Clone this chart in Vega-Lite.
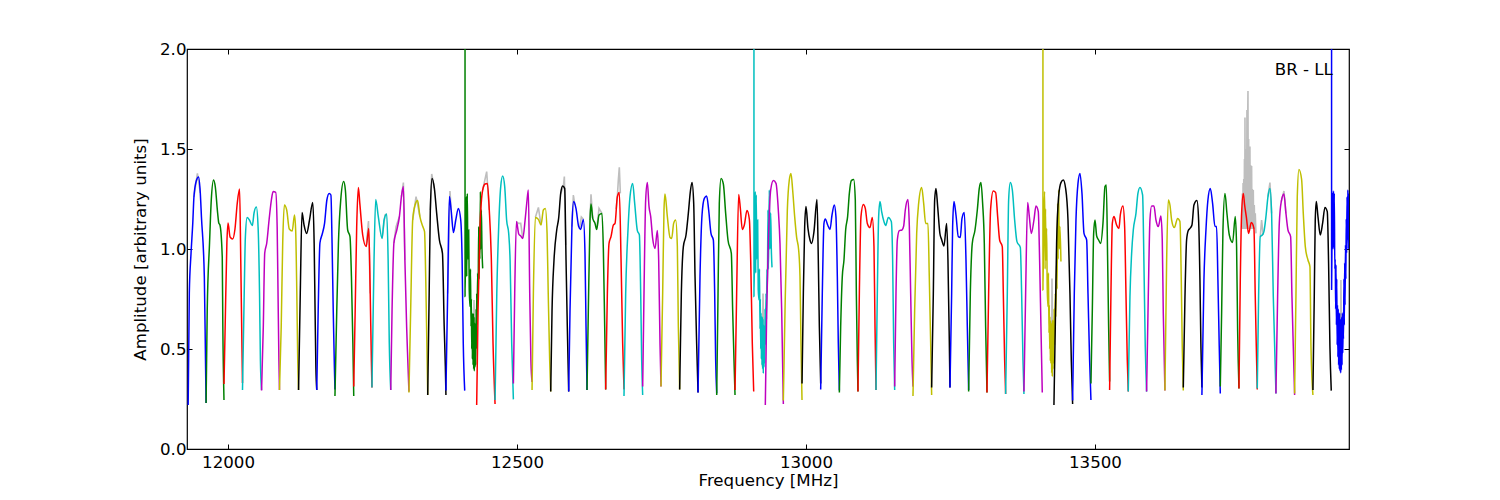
{
"$schema":"https://vega.github.io/schema/vega-lite/v6.json",
"width":1162,"height":400,
"autosize":{"type":"none"},
"padding":{"left":187,"top":49,"right":151,"bottom":51},
"background":"white",
"config":{"font":"DejaVu Sans","view":{"stroke":"black","strokeWidth":1.2}},
"datasets":{
"spectrum":[
{"c":"b","n":0,"f":11931,"a":0.22},{"c":"b","n":0,"f":11933,"a":0.78},{"c":"b","n":0,"f":11936,"a":0.98},{"c":"b","n":0,"f":11939,"a":1.13},{"c":"b","n":0,"f":11941,"a":1.26},{"c":"b","n":0,"f":11945,"a":1.34},{"c":"b","n":0,"f":11949,"a":1.36},{"c":"b","n":0,"f":11952,"a":1.28},{"c":"b","n":0,"f":11954,"a":1.16},{"c":"b","n":0,"f":11959,"a":0.86},{"c":"b","n":0,"f":11961,"a":0.445},{"c":"b","n":0,"f":11962,"a":0.23},
{"c":"g","n":1,"f":11962,"a":0.23},{"c":"g","n":1,"f":11964,"a":0.695},{"c":"g","n":1,"f":11968,"a":1.03},{"c":"g","n":1,"f":11971,"a":1.245},{"c":"g","n":1,"f":11975,"a":1.345},{"c":"g","n":1,"f":11978,"a":1.31},{"c":"g","n":1,"f":11982,"a":1.18},{"c":"g","n":1,"f":11984,"a":1.13},{"c":"g","n":1,"f":11986,"a":1.12},{"c":"g","n":1,"f":11990,"a":0.96},{"c":"g","n":1,"f":11991,"a":0.61},{"c":"g","n":1,"f":11993,"a":0.245},
{"c":"r","n":2,"f":11993,"a":0.325},{"c":"r","n":2,"f":11995,"a":0.61},{"c":"r","n":2,"f":11998,"a":1.03},{"c":"r","n":2,"f":12000,"a":1.13},{"c":"r","n":2,"f":12003.5,"a":1.06},{"c":"r","n":2,"f":12008,"a":1.05},{"c":"r","n":2,"f":12012,"a":1.1},{"c":"r","n":2,"f":12016,"a":1.23},{"c":"r","n":2,"f":12020,"a":1.3},{"c":"r","n":2,"f":12022,"a":0.945},{"c":"r","n":2,"f":12024,"a":0.53},{"c":"r","n":2,"f":12025,"a":0.33},
{"c":"c","n":3,"f":12025,"a":0.295},{"c":"c","n":3,"f":12028,"a":0.78},{"c":"c","n":3,"f":12030,"a":1.06},{"c":"c","n":3,"f":12033,"a":1.158},{"c":"c","n":3,"f":12037,"a":1.145},{"c":"c","n":3,"f":12042,"a":1.117},{"c":"c","n":3,"f":12045,"a":1.18},{"c":"c","n":3,"f":12049,"a":1.21},{"c":"c","n":3,"f":12052,"a":1.11},{"c":"c","n":3,"f":12054.5,"a":0.78},{"c":"c","n":3,"f":12056,"a":0.445},{"c":"c","n":3,"f":12058,"a":0.295},
{"c":"m","n":4,"f":12058,"a":0.292},{"c":"m","n":4,"f":12061,"a":0.61},{"c":"m","n":4,"f":12063.5,"a":0.98},{"c":"m","n":4,"f":12067,"a":1.03},{"c":"m","n":4,"f":12071,"a":1.145},{"c":"m","n":4,"f":12075,"a":1.245},{"c":"m","n":4,"f":12078,"a":1.287},{"c":"m","n":4,"f":12082.5,"a":1.283},{"c":"m","n":4,"f":12085,"a":1.11},{"c":"m","n":4,"f":12086.5,"a":0.78},{"c":"m","n":4,"f":12088,"a":0.445},{"c":"m","n":4,"f":12089,"a":0.295},
{"c":"y","n":5,"f":12089,"a":0.295},{"c":"y","n":5,"f":12092,"a":0.61},{"c":"y","n":5,"f":12094.6,"a":1.03},{"c":"y","n":5,"f":12097.5,"a":1.22},{"c":"y","n":5,"f":12101.5,"a":1.195},{"c":"y","n":5,"f":12106,"a":1.1},{"c":"y","n":5,"f":12111,"a":1.09},{"c":"y","n":5,"f":12115,"a":1.17},{"c":"y","n":5,"f":12117,"a":1.095},{"c":"y","n":5,"f":12119,"a":0.78},{"c":"y","n":5,"f":12120.6,"a":0.445},{"c":"y","n":5,"f":12122,"a":0.295},
{"c":"k","n":6,"f":12122,"a":0.295},{"c":"k","n":6,"f":12125,"a":0.78},{"c":"k","n":6,"f":12128,"a":1.182},{"c":"k","n":6,"f":12131.5,"a":1.12},{"c":"k","n":6,"f":12136,"a":1.078},{"c":"k","n":6,"f":12141,"a":1.145},{"c":"k","n":6,"f":12146.5,"a":1.233},{"c":"k","n":6,"f":12149,"a":1.03},{"c":"k","n":6,"f":12150.6,"a":0.695},{"c":"k","n":6,"f":12152,"a":0.41},{"c":"k","n":6,"f":12153.5,"a":0.295},
{"c":"b","n":7,"f":12153.5,"a":0.295},{"c":"b","n":7,"f":12156,"a":0.695},{"c":"b","n":7,"f":12159,"a":1.03},{"c":"b","n":7,"f":12163,"a":1.075},{"c":"b","n":7,"f":12167,"a":1.128},{"c":"b","n":7,"f":12171,"a":1.245},{"c":"b","n":7,"f":12175,"a":1.278},{"c":"b","n":7,"f":12178,"a":1.27},{"c":"b","n":7,"f":12180,"a":1.03},{"c":"b","n":7,"f":12182,"a":0.695},{"c":"b","n":7,"f":12184,"a":0.41},{"c":"b","n":7,"f":12185,"a":0.298},
{"c":"g","n":8,"f":12185,"a":0.265},{"c":"g","n":8,"f":12187.5,"a":0.61},{"c":"g","n":8,"f":12191,"a":1.03},{"c":"g","n":8,"f":12195,"a":1.245},{"c":"g","n":8,"f":12200,"a":1.337},{"c":"g","n":8,"f":12203,"a":1.295},{"c":"g","n":8,"f":12207,"a":1.095},{"c":"g","n":8,"f":12211,"a":1.062},{"c":"g","n":8,"f":12213.5,"a":0.862},{"c":"g","n":8,"f":12216,"a":0.528},{"c":"g","n":8,"f":12217.5,"a":0.265},
{"c":"r","n":9,"f":12217.5,"a":0.312},{"c":"r","n":9,"f":12220,"a":0.695},{"c":"r","n":9,"f":12222.6,"a":1.11},{"c":"r","n":9,"f":12225.5,"a":1.308},{"c":"r","n":9,"f":12228,"a":1.228},{"c":"r","n":9,"f":12233,"a":1.07},{"c":"r","n":9,"f":12239,"a":1.012},{"c":"r","n":9,"f":12243.5,"a":1.103},{"c":"r","n":9,"f":12246,"a":0.778},{"c":"r","n":9,"f":12248,"a":0.445},{"c":"r","n":9,"f":12249,"a":0.308},
{"c":"c","n":10,"f":12249,"a":0.308},{"c":"c","n":10,"f":12252.6,"a":0.945},{"c":"c","n":10,"f":12255.5,"a":1.248},{"c":"c","n":10,"f":12260,"a":1.162},{"c":"c","n":10,"f":12266.5,"a":1.053},{"c":"c","n":10,"f":12270,"a":1.145},{"c":"c","n":10,"f":12274.5,"a":1.175},{"c":"c","n":10,"f":12277,"a":0.945},{"c":"c","n":10,"f":12279,"a":0.528},{"c":"c","n":10,"f":12281.5,"a":0.295},
{"c":"m","n":11,"f":12281.5,"a":0.295},{"c":"m","n":11,"f":12283.8,"a":0.695},{"c":"m","n":11,"f":12287,"a":1.03},{"c":"m","n":11,"f":12292,"a":1.095},{"c":"m","n":11,"f":12296.5,"a":1.162},{"c":"m","n":11,"f":12300,"a":1.262},{"c":"m","n":11,"f":12303.4,"a":1.312},{"c":"m","n":11,"f":12306,"a":0.945},{"c":"m","n":11,"f":12309,"a":0.612},{"c":"m","n":11,"f":12311,"a":0.445},{"c":"m","n":11,"f":12313,"a":0.287},
{"c":"y","n":12,"f":12313,"a":0.283},{"c":"y","n":12,"f":12316,"a":0.695},{"c":"y","n":12,"f":12319.5,"a":1.145},{"c":"y","n":12,"f":12323.6,"a":1.22},{"c":"y","n":12,"f":12328,"a":1.242},{"c":"y","n":12,"f":12332,"a":1.162},{"c":"y","n":12,"f":12337,"a":1.112},{"c":"y","n":12,"f":12340,"a":1.087},{"c":"y","n":12,"f":12342,"a":0.862},{"c":"y","n":12,"f":12344,"a":0.528},{"c":"y","n":12,"f":12345.5,"a":0.27},
{"c":"k","n":13,"f":12345.5,"a":0.27},{"c":"k","n":13,"f":12348,"a":0.778},{"c":"k","n":13,"f":12350,"a":1.195},{"c":"k","n":13,"f":12353,"a":1.353},{"c":"k","n":13,"f":12357,"a":1.303},{"c":"k","n":13,"f":12361,"a":1.178},{"c":"k","n":13,"f":12365.7,"a":1.045},{"c":"k","n":13,"f":12371,"a":0.978},{"c":"k","n":13,"f":12374,"a":0.612},{"c":"k","n":13,"f":12376,"a":0.412},{"c":"k","n":13,"f":12377,"a":0.27},
{"c":"b","n":14,"f":12377,"a":0.292},{"c":"b","n":14,"f":12380,"a":0.778},{"c":"b","n":14,"f":12383,"a":1.262},{"c":"b","n":14,"f":12386,"a":1.195},{"c":"b","n":14,"f":12390,"a":1.082},{"c":"b","n":14,"f":12394,"a":1.145},{"c":"b","n":14,"f":12398.5,"a":1.203},{"c":"b","n":14,"f":12402.6,"a":1.145},{"c":"b","n":14,"f":12405,"a":0.945},{"c":"b","n":14,"f":12407,"a":0.528},{"c":"b","n":14,"f":12409.5,"a":0.292},
{"c":"g","n":15,"f":12410,"a":3},{"c":"g","n":15,"f":12410.1,"a":0.762},{"c":"g","n":15,"f":12411,"a":1},{"c":"g","n":15,"f":12412.4,"a":1.262},{"c":"g","n":15,"f":12413,"a":0.862},{"c":"g","n":15,"f":12414,"a":1.278},{"c":"g","n":15,"f":12415,"a":0.95},{"c":"g","n":15,"f":12416.4,"a":1.095},{"c":"g","n":15,"f":12417.3,"a":0.8},{"c":"g","n":15,"f":12418.7,"a":0.712},{"c":"g","n":15,"f":12419.5,"a":0.9},{"c":"g","n":15,"f":12420.4,"a":0.612},{"c":"g","n":15,"f":12421,"a":0.75},{"c":"g","n":15,"f":12421.6,"a":0.5},{"c":"g","n":15,"f":12422.2,"a":0.68},{"c":"g","n":15,"f":12422.7,"a":0.45},{"c":"g","n":15,"f":12423.3,"a":0.66},{"c":"g","n":15,"f":12423.9,"a":0.42},{"c":"g","n":15,"f":12424.5,"a":0.678},{"c":"g","n":15,"f":12425,"a":0.4},{"c":"g","n":15,"f":12425.6,"a":0.66},{"c":"g","n":15,"f":12426.1,"a":0.39},{"c":"g","n":15,"f":12426.7,"a":0.63},{"c":"g","n":15,"f":12427.4,"a":0.41},{"c":"g","n":15,"f":12428,"a":0.6},{"c":"g","n":15,"f":12428.6,"a":0.42},{"c":"g","n":15,"f":12429.2,"a":0.7},{"c":"g","n":15,"f":12429.8,"a":0.5},{"c":"g","n":15,"f":12430.2,"a":0.778},{"c":"g","n":15,"f":12431,"a":0.62},{"c":"g","n":15,"f":12431.8,"a":0.88},{"c":"g","n":15,"f":12432.6,"a":0.75},{"c":"g","n":15,"f":12433.7,"a":1.112},{"c":"g","n":15,"f":12434.2,"a":0.85},{"c":"g","n":15,"f":12434.9,"a":1},{"c":"g","n":15,"f":12435.8,"a":0.95},{"c":"g","n":15,"f":12436.6,"a":1.287},{"c":"g","n":15,"f":12437.4,"a":1},{"c":"g","n":15,"f":12438.3,"a":1.195},{"c":"g","n":15,"f":12439.4,"a":1},{"c":"g","n":15,"f":12440.6,"a":0.903},
{"c":"r","n":16,"f":12430.2,"a":0.22},{"c":"r","n":16,"f":12432.6,"a":0.695},{"c":"r","n":16,"f":12436,"a":1.112},{"c":"r","n":16,"f":12440.6,"a":1.295},{"c":"r","n":16,"f":12444.7,"a":1.325},{"c":"r","n":16,"f":12448.7,"a":1.328},{"c":"r","n":16,"f":12452,"a":1.195},{"c":"r","n":16,"f":12455.6,"a":0.945},{"c":"r","n":16,"f":12458.5,"a":0.528},{"c":"r","n":16,"f":12462,"a":0.225},
{"c":"c","n":17,"f":12462,"a":0.245},{"c":"c","n":17,"f":12465,"a":0.778},{"c":"c","n":17,"f":12468.3,"a":1.112},{"c":"c","n":17,"f":12471.8,"a":1.312},{"c":"c","n":17,"f":12475.2,"a":1.365},{"c":"c","n":17,"f":12478.7,"a":1.312},{"c":"c","n":17,"f":12482,"a":1.145},{"c":"c","n":17,"f":12485.6,"a":1.078},{"c":"c","n":17,"f":12488,"a":0.945},{"c":"c","n":17,"f":12490.8,"a":0.528},{"c":"c","n":17,"f":12493.7,"a":0.248},
{"c":"m","n":18,"f":12493.7,"a":0.328},{"c":"m","n":18,"f":12496,"a":0.778},{"c":"m","n":18,"f":12499,"a":1.137},{"c":"m","n":18,"f":12503,"a":1.075},{"c":"m","n":18,"f":12506.4,"a":1.065},{"c":"m","n":18,"f":12510,"a":1.053},{"c":"m","n":18,"f":12514,"a":1.145},{"c":"m","n":18,"f":12516.8,"a":1.228},{"c":"m","n":18,"f":12519.6,"a":1.295},{"c":"m","n":18,"f":12522,"a":0.778},{"c":"m","n":18,"f":12524,"a":0.445},{"c":"m","n":18,"f":12526,"a":0.335},
{"c":"y","n":19,"f":12526,"a":0.295},{"c":"y","n":19,"f":12528.3,"a":0.778},{"c":"y","n":19,"f":12531.7,"a":1.158},{"c":"y","n":19,"f":12537,"a":1.148},{"c":"y","n":19,"f":12541.5,"a":1.12},{"c":"y","n":19,"f":12545.6,"a":1.195},{"c":"y","n":19,"f":12549,"a":1.203},{"c":"y","n":19,"f":12552,"a":1.078},{"c":"y","n":19,"f":12554,"a":0.778},{"c":"y","n":19,"f":12556.5,"a":0.445},{"c":"y","n":19,"f":12558.3,"a":0.287},
{"c":"k","n":20,"f":12558.3,"a":0.287},{"c":"k","n":20,"f":12560.6,"a":0.695},{"c":"k","n":20,"f":12564,"a":0.945},{"c":"k","n":20,"f":12568.7,"a":1.095},{"c":"k","n":20,"f":12572,"a":1.153},{"c":"k","n":20,"f":12575.6,"a":1.278},{"c":"k","n":20,"f":12579,"a":1.315},{"c":"k","n":20,"f":12582.5,"a":1.303},{"c":"k","n":20,"f":12584.8,"a":0.945},{"c":"k","n":20,"f":12587,"a":0.612},{"c":"k","n":20,"f":12589.4,"a":0.287},
{"c":"b","n":21,"f":12589.4,"a":0.287},{"c":"b","n":21,"f":12591.7,"a":0.695},{"c":"b","n":21,"f":12595,"a":1.112},{"c":"b","n":21,"f":12598,"a":1.237},{"c":"b","n":21,"f":12602,"a":1.203},{"c":"b","n":21,"f":12606.7,"a":1.112},{"c":"b","n":21,"f":12610,"a":1.098},{"c":"b","n":21,"f":12614.8,"a":1.148},{"c":"b","n":21,"f":12617.6,"a":0.978},{"c":"b","n":21,"f":12619.4,"a":0.612},{"c":"b","n":21,"f":12621.1,"a":0.295},
{"c":"g","n":22,"f":12621.1,"a":0.295},{"c":"g","n":22,"f":12623.4,"a":0.695},{"c":"g","n":22,"f":12626.3,"a":1.145},{"c":"g","n":22,"f":12628,"a":1.225},{"c":"g","n":22,"f":12631,"a":1.153},{"c":"g","n":22,"f":12635,"a":1.128},{"c":"g","n":22,"f":12637.8,"a":1.098},{"c":"g","n":22,"f":12641.9,"a":1.17},{"c":"g","n":22,"f":12647,"a":1.178},{"c":"g","n":22,"f":12649.4,"a":0.995},{"c":"g","n":22,"f":12651.7,"a":0.612},{"c":"g","n":22,"f":12653.4,"a":0.298},
{"c":"r","n":23,"f":12653.4,"a":0.298},{"c":"r","n":23,"f":12656.3,"a":0.778},{"c":"r","n":23,"f":12659.2,"a":1.028},{"c":"r","n":23,"f":12662.6,"a":1.062},{"c":"r","n":23,"f":12666.7,"a":1.12},{"c":"r","n":23,"f":12669.6,"a":1.128},{"c":"r","n":23,"f":12673.6,"a":1.262},{"c":"r","n":23,"f":12677,"a":1.283},{"c":"r","n":23,"f":12680,"a":0.945},{"c":"r","n":23,"f":12682.8,"a":0.528},{"c":"r","n":23,"f":12685.1,"a":0.298},
{"c":"c","n":24,"f":12685.1,"a":0.265},{"c":"c","n":24,"f":12688,"a":0.778},{"c":"c","n":24,"f":12692,"a":1.095},{"c":"c","n":24,"f":12695.5,"a":1.262},{"c":"c","n":24,"f":12700.1,"a":1.328},{"c":"c","n":24,"f":12703.6,"a":1.228},{"c":"c","n":24,"f":12708.2,"a":1.092},{"c":"c","n":24,"f":12711.7,"a":1.07},{"c":"c","n":24,"f":12714,"a":0.778},{"c":"c","n":24,"f":12715.7,"a":0.445},{"c":"c","n":24,"f":12717.4,"a":0.27},
{"c":"m","n":25,"f":12717.4,"a":0.312},{"c":"m","n":25,"f":12719.7,"a":0.778},{"c":"m","n":25,"f":12722.6,"a":1.245},{"c":"m","n":25,"f":12725.5,"a":1.332},{"c":"m","n":25,"f":12728.4,"a":1.212},{"c":"m","n":25,"f":12731.3,"a":1.162},{"c":"m","n":25,"f":12734.7,"a":1.053},{"c":"m","n":25,"f":12738.8,"a":1.003},{"c":"m","n":25,"f":12742.8,"a":1.092},{"c":"m","n":25,"f":12745.1,"a":0.945},{"c":"m","n":25,"f":12747.4,"a":0.528},{"c":"m","n":25,"f":12749.1,"a":0.312},
{"c":"y","n":26,"f":12749.1,"a":0.312},{"c":"y","n":26,"f":12752,"a":0.778},{"c":"y","n":26,"f":12754.3,"a":1.195},{"c":"y","n":26,"f":12756,"a":1.275},{"c":"y","n":26,"f":12760.1,"a":1.162},{"c":"y","n":26,"f":12764.7,"a":1.058},{"c":"y","n":26,"f":12767.6,"a":1.053},{"c":"y","n":26,"f":12771,"a":1.128},{"c":"y","n":26,"f":12774.5,"a":1.145},{"c":"y","n":26,"f":12777.4,"a":1.012},{"c":"y","n":26,"f":12779.1,"a":0.612},{"c":"y","n":26,"f":12781.4,"a":0.298},
{"c":"k","n":27,"f":12781.4,"a":0.298},{"c":"k","n":27,"f":12784.3,"a":0.778},{"c":"k","n":27,"f":12787.8,"a":1.012},{"c":"k","n":27,"f":12792.4,"a":1.07},{"c":"k","n":27,"f":12796.4,"a":1.178},{"c":"k","n":27,"f":12799.9,"a":1.287},{"c":"k","n":27,"f":12802.8,"a":1.333},{"c":"k","n":27,"f":12805.7,"a":1.228},{"c":"k","n":27,"f":12808,"a":0.862},{"c":"k","n":27,"f":12810.8,"a":0.528},{"c":"k","n":27,"f":12813.2,"a":0.282},
{"c":"b","n":28,"f":12813.2,"a":0.282},{"c":"b","n":28,"f":12816.6,"a":0.862},{"c":"b","n":28,"f":12820.1,"a":1.17},{"c":"b","n":28,"f":12824.1,"a":1.253},{"c":"b","n":28,"f":12828.1,"a":1.265},{"c":"b","n":28,"f":12831.6,"a":1.195},{"c":"b","n":28,"f":12835.6,"a":1.078},{"c":"b","n":28,"f":12839.7,"a":1.045},{"c":"b","n":28,"f":12842,"a":0.778},{"c":"b","n":28,"f":12843.7,"a":0.445},{"c":"b","n":28,"f":12845.5,"a":0.278},
{"c":"g","n":29,"f":12845.5,"a":0.27},{"c":"g","n":29,"f":12847.8,"a":0.778},{"c":"g","n":29,"f":12850,"a":1.228},{"c":"g","n":29,"f":12853,"a":1.353},{"c":"g","n":29,"f":12857,"a":1.325},{"c":"g","n":29,"f":12861,"a":1.178},{"c":"g","n":29,"f":12865,"a":1.045},{"c":"g","n":29,"f":12870.8,"a":0.978},{"c":"g","n":29,"f":12873.1,"a":0.695},{"c":"g","n":29,"f":12875.4,"a":0.445},{"c":"g","n":29,"f":12877.2,"a":0.27},
{"c":"r","n":30,"f":12877.2,"a":0.295},{"c":"r","n":30,"f":12880,"a":0.778},{"c":"r","n":30,"f":12883.5,"a":1.273},{"c":"r","n":30,"f":12886.4,"a":1.203},{"c":"r","n":30,"f":12889.8,"a":1.098},{"c":"r","n":30,"f":12893.3,"a":1.12},{"c":"r","n":30,"f":12897.9,"a":1.192},{"c":"r","n":30,"f":12902,"a":1.148},{"c":"r","n":30,"f":12904.3,"a":0.945},{"c":"r","n":30,"f":12907.1,"a":0.528},{"c":"r","n":30,"f":12909.5,"a":0.287},
{"c":"c","n":31,"f":12909.9,"a":3},{"c":"c","n":31,"f":12910,"a":0.762},{"c":"c","n":31,"f":12911,"a":1.02},{"c":"c","n":31,"f":12912.3,"a":1.287},{"c":"c","n":31,"f":12913,"a":0.88},{"c":"c","n":31,"f":12913.9,"a":1.27},{"c":"c","n":31,"f":12914.9,"a":0.95},{"c":"c","n":31,"f":12916.4,"a":1.145},{"c":"c","n":31,"f":12917.3,"a":0.8},{"c":"c","n":31,"f":12918.7,"a":0.745},{"c":"c","n":31,"f":12919.5,"a":0.9},{"c":"c","n":31,"f":12920.4,"a":0.6},{"c":"c","n":31,"f":12921,"a":0.75},{"c":"c","n":31,"f":12921.6,"a":0.5},{"c":"c","n":31,"f":12922.2,"a":0.68},{"c":"c","n":31,"f":12922.7,"a":0.45},{"c":"c","n":31,"f":12923.3,"a":0.662},{"c":"c","n":31,"f":12923.9,"a":0.42},{"c":"c","n":31,"f":12924.5,"a":0.66},{"c":"c","n":31,"f":12925,"a":0.4},{"c":"c","n":31,"f":12925.6,"a":0.65},{"c":"c","n":31,"f":12926.1,"a":0.378},{"c":"c","n":31,"f":12926.7,"a":0.62},{"c":"c","n":31,"f":12927.4,"a":0.41},{"c":"c","n":31,"f":12928,"a":0.6},{"c":"c","n":31,"f":12928.6,"a":0.43},{"c":"c","n":31,"f":12929.2,"a":0.7},{"c":"c","n":31,"f":12929.8,"a":0.52},{"c":"c","n":31,"f":12930.8,"a":0.778},{"c":"c","n":31,"f":12931.6,"a":0.65},{"c":"c","n":31,"f":12932.4,"a":0.9},{"c":"c","n":31,"f":12933.1,"a":0.78},{"c":"c","n":31,"f":12934.2,"a":1.195},{"c":"c","n":31,"f":12934.9,"a":0.9},{"c":"c","n":31,"f":12935.6,"a":1.05},{"c":"c","n":31,"f":12936.5,"a":1.295},{"c":"c","n":31,"f":12937.4,"a":1},{"c":"c","n":31,"f":12938.9,"a":1.18},{"c":"c","n":31,"f":12940,"a":1},{"c":"c","n":31,"f":12941.2,"a":0.908},
{"c":"m","n":32,"f":12929.6,"a":0.22},{"c":"m","n":32,"f":12932,"a":0.695},{"c":"m","n":32,"f":12934.8,"a":1.028},{"c":"m","n":32,"f":12938.9,"a":1.295},{"c":"m","n":32,"f":12943.5,"a":1.342},{"c":"m","n":32,"f":12948.1,"a":1.328},{"c":"m","n":32,"f":12952.1,"a":1.195},{"c":"m","n":32,"f":12955,"a":1.028},{"c":"m","n":32,"f":12957.9,"a":0.695},{"c":"m","n":32,"f":12960.8,"a":0.225},
{"c":"y","n":33,"f":12960.8,"a":0.242},{"c":"y","n":33,"f":12963.7,"a":0.695},{"c":"y","n":33,"f":12967.7,"a":1.195},{"c":"y","n":33,"f":12971.1,"a":1.345},{"c":"y","n":33,"f":12974,"a":1.378},{"c":"y","n":33,"f":12976.9,"a":1.295},{"c":"y","n":33,"f":12980.4,"a":1.162},{"c":"y","n":33,"f":12983.8,"a":1.058},{"c":"y","n":33,"f":12987.3,"a":0.995},{"c":"y","n":33,"f":12989.6,"a":0.862},{"c":"y","n":33,"f":12991.3,"a":0.528},{"c":"y","n":33,"f":12993.1,"a":0.245},
{"c":"k","n":34,"f":12993.1,"a":0.328},{"c":"k","n":34,"f":12995.4,"a":0.778},{"c":"k","n":34,"f":12997.7,"a":1.112},{"c":"k","n":34,"f":13000,"a":1.212},{"c":"k","n":34,"f":13003.4,"a":1.103},{"c":"k","n":34,"f":13006.9,"a":1.045},{"c":"k","n":34,"f":13009.8,"a":1.028},{"c":"k","n":34,"f":13013.8,"a":1.087},{"c":"k","n":34,"f":13019,"a":1.248},{"c":"k","n":34,"f":13021.3,"a":0.945},{"c":"k","n":34,"f":13023.1,"a":0.612},{"c":"k","n":34,"f":13025.4,"a":0.328},
{"c":"b","n":35,"f":13025.4,"a":0.298},{"c":"b","n":35,"f":13028.2,"a":0.778},{"c":"b","n":35,"f":13031.1,"a":1.128},{"c":"b","n":35,"f":13033.4,"a":1.15},{"c":"b","n":35,"f":13037.5,"a":1.12},{"c":"b","n":35,"f":13041.5,"a":1.098},{"c":"b","n":35,"f":13045,"a":1.17},{"c":"b","n":35,"f":13049,"a":1.22},{"c":"b","n":35,"f":13051.8,"a":1.162},{"c":"b","n":35,"f":13054.2,"a":0.862},{"c":"b","n":35,"f":13055.9,"a":0.528},{"c":"b","n":35,"f":13057.7,"a":0.292},
{"c":"g","n":36,"f":13057.7,"a":0.283},{"c":"g","n":36,"f":13060,"a":0.612},{"c":"g","n":36,"f":13062.8,"a":0.862},{"c":"g","n":36,"f":13065.7,"a":0.945},{"c":"g","n":36,"f":13068.6,"a":1.095},{"c":"g","n":36,"f":13072,"a":1.162},{"c":"g","n":36,"f":13075,"a":1.278},{"c":"g","n":36,"f":13078.4,"a":1.342},{"c":"g","n":36,"f":13082.5,"a":1.348},{"c":"g","n":36,"f":13085.3,"a":1.245},{"c":"g","n":36,"f":13087.1,"a":0.778},{"c":"g","n":36,"f":13088.8,"a":0.445},{"c":"g","n":36,"f":13089.9,"a":0.287},
{"c":"r","n":37,"f":13089.9,"a":0.287},{"c":"r","n":37,"f":13092.3,"a":0.778},{"c":"r","n":37,"f":13095.1,"a":1.162},{"c":"r","n":37,"f":13099.2,"a":1.223},{"c":"r","n":37,"f":13102.6,"a":1.203},{"c":"r","n":37,"f":13106.1,"a":1.128},{"c":"r","n":37,"f":13110.7,"a":1.107},{"c":"r","n":37,"f":13114.7,"a":1.158},{"c":"r","n":37,"f":13117.6,"a":1.012},{"c":"r","n":37,"f":13119.4,"a":0.612},{"c":"r","n":37,"f":13121.1,"a":0.295},
{"c":"c","n":38,"f":13121.1,"a":0.295},{"c":"c","n":38,"f":13123.4,"a":0.778},{"c":"c","n":38,"f":13125.7,"a":1.162},{"c":"c","n":38,"f":13128,"a":1.237},{"c":"c","n":38,"f":13130.9,"a":1.187},{"c":"c","n":38,"f":13134.9,"a":1.137},{"c":"c","n":38,"f":13137.8,"a":1.117},{"c":"c","n":38,"f":13142.4,"a":1.158},{"c":"c","n":38,"f":13147.6,"a":1.137},{"c":"c","n":38,"f":13149.9,"a":0.945},{"c":"c","n":38,"f":13151.7,"a":0.528},{"c":"c","n":38,"f":13153.4,"a":0.295},
{"c":"m","n":39,"f":13153.4,"a":0.312},{"c":"m","n":39,"f":13155.7,"a":0.778},{"c":"m","n":39,"f":13158,"a":1.045},{"c":"m","n":39,"f":13161.5,"a":1.092},{"c":"m","n":39,"f":13166.1,"a":1.095},{"c":"m","n":39,"f":13169,"a":1.115},{"c":"m","n":39,"f":13171.8,"a":1.195},{"c":"m","n":39,"f":13176.4,"a":1.248},{"c":"m","n":39,"f":13178.8,"a":1.112},{"c":"m","n":39,"f":13181.1,"a":0.778},{"c":"m","n":39,"f":13183.4,"a":0.445},{"c":"m","n":39,"f":13185.1,"a":0.312},
{"c":"y","n":40,"f":13185.1,"a":0.265},{"c":"y","n":40,"f":13188,"a":0.695},{"c":"y","n":40,"f":13191.5,"a":1.078},{"c":"y","n":40,"f":13194.9,"a":1.228},{"c":"y","n":40,"f":13200.1,"a":1.308},{"c":"y","n":40,"f":13203.6,"a":1.228},{"c":"y","n":40,"f":13207,"a":1.128},{"c":"y","n":40,"f":13211,"a":1.128},{"c":"y","n":40,"f":13213.3,"a":0.862},{"c":"y","n":40,"f":13215.7,"a":0.528},{"c":"y","n":40,"f":13217.4,"a":0.27},
{"c":"k","n":41,"f":13217.4,"a":0.308},{"c":"k","n":41,"f":13220.3,"a":0.778},{"c":"k","n":41,"f":13222.6,"a":1.245},{"c":"k","n":41,"f":13224.9,"a":1.303},{"c":"k","n":41,"f":13227.8,"a":1.212},{"c":"k","n":41,"f":13231.8,"a":1.075},{"c":"k","n":41,"f":13234.6,"a":1.048},{"c":"k","n":41,"f":13238.7,"a":1.015},{"c":"k","n":41,"f":13243.3,"a":1.128},{"c":"k","n":41,"f":13245.6,"a":0.945},{"c":"k","n":41,"f":13248,"a":0.528},{"c":"k","n":41,"f":13249.1,"a":0.308},
{"c":"b","n":42,"f":13249.1,"a":0.308},{"c":"b","n":42,"f":13252,"a":0.778},{"c":"b","n":42,"f":13253.7,"a":1.112},{"c":"b","n":42,"f":13256,"a":1.237},{"c":"b","n":42,"f":13259.5,"a":1.17},{"c":"b","n":42,"f":13263.5,"a":1.062},{"c":"b","n":42,"f":13267,"a":1.058},{"c":"b","n":42,"f":13269.9,"a":1.153},{"c":"b","n":42,"f":13273.9,"a":1.182},{"c":"b","n":42,"f":13276.8,"a":0.945},{"c":"b","n":42,"f":13279.1,"a":0.612},{"c":"b","n":42,"f":13281.4,"a":0.295},
{"c":"g","n":43,"f":13281.4,"a":0.287},{"c":"g","n":43,"f":13284.3,"a":0.778},{"c":"g","n":43,"f":13287.7,"a":1.028},{"c":"g","n":43,"f":13292.4,"a":1.095},{"c":"g","n":43,"f":13296.4,"a":1.195},{"c":"g","n":43,"f":13299.8,"a":1.303},{"c":"g","n":43,"f":13302.7,"a":1.332},{"c":"g","n":43,"f":13305.6,"a":1.228},{"c":"g","n":43,"f":13308.5,"a":1.028},{"c":"g","n":43,"f":13310.8,"a":0.612},{"c":"g","n":43,"f":13313.1,"a":0.282},
{"c":"r","n":44,"f":13313.1,"a":0.282},{"c":"r","n":44,"f":13316,"a":0.778},{"c":"r","n":44,"f":13319.5,"a":1.203},{"c":"r","n":44,"f":13324,"a":1.29},{"c":"r","n":44,"f":13328.1,"a":1.283},{"c":"r","n":44,"f":13331.6,"a":1.162},{"c":"r","n":44,"f":13335,"a":1.045},{"c":"r","n":44,"f":13339.6,"a":1.012},{"c":"r","n":44,"f":13341.4,"a":0.778},{"c":"r","n":44,"f":13343.7,"a":0.445},{"c":"r","n":44,"f":13345.4,"a":0.275},
{"c":"c","n":45,"f":13345.4,"a":0.275},{"c":"c","n":45,"f":13348.3,"a":0.778},{"c":"c","n":45,"f":13350.6,"a":1.245},{"c":"c","n":45,"f":13353.5,"a":1.332},{"c":"c","n":45,"f":13357,"a":1.295},{"c":"c","n":45,"f":13361,"a":1.145},{"c":"c","n":45,"f":13365,"a":1.037},{"c":"c","n":45,"f":13370.8,"a":1.008},{"c":"c","n":45,"f":13373.1,"a":0.778},{"c":"c","n":45,"f":13375.4,"a":0.445},{"c":"c","n":45,"f":13377.1,"a":0.275},
{"c":"m","n":46,"f":13377.1,"a":0.287},{"c":"m","n":46,"f":13380,"a":0.778},{"c":"m","n":46,"f":13383.5,"a":1.233},{"c":"m","n":46,"f":13386.4,"a":1.162},{"c":"m","n":46,"f":13389.8,"a":1.078},{"c":"m","n":46,"f":13394.4,"a":1.145},{"c":"m","n":46,"f":13397.9,"a":1.215},{"c":"m","n":46,"f":13401.9,"a":1.187},{"c":"m","n":46,"f":13404.2,"a":0.945},{"c":"m","n":46,"f":13406.5,"a":0.612},{"c":"m","n":46,"f":13408.8,"a":0.283},
{"c":"y","n":47,"f":13409.9,"a":3},{"c":"y","n":47,"f":13410,"a":0.795},{"c":"y","n":47,"f":13411,"a":1.05},{"c":"y","n":47,"f":13412.9,"a":1.287},{"c":"y","n":47,"f":13413.7,"a":0.9},{"c":"y","n":47,"f":13414.4,"a":1.2},{"c":"y","n":47,"f":13415.2,"a":0.945},{"c":"y","n":47,"f":13416.3,"a":1.103},{"c":"y","n":47,"f":13417.4,"a":0.8},{"c":"y","n":47,"f":13418.7,"a":0.712},{"c":"y","n":47,"f":13419.5,"a":0.88},{"c":"y","n":47,"f":13420.4,"a":0.58},{"c":"y","n":47,"f":13421,"a":0.72},{"c":"y","n":47,"f":13421.6,"a":0.5},{"c":"y","n":47,"f":13422.1,"a":0.662},{"c":"y","n":47,"f":13422.7,"a":0.44},{"c":"y","n":47,"f":13423.3,"a":0.64},{"c":"y","n":47,"f":13423.8,"a":0.428},{"c":"y","n":47,"f":13424.4,"a":0.63},{"c":"y","n":47,"f":13425,"a":0.38},{"c":"y","n":47,"f":13425.6,"a":0.62},{"c":"y","n":47,"f":13426.1,"a":0.362},{"c":"y","n":47,"f":13426.7,"a":0.645},{"c":"y","n":47,"f":13427.3,"a":0.4},{"c":"y","n":47,"f":13428,"a":0.6},{"c":"y","n":47,"f":13428.6,"a":0.43},{"c":"y","n":47,"f":13429.2,"a":0.7},{"c":"y","n":47,"f":13429.9,"a":0.52},{"c":"y","n":47,"f":13431.3,"a":0.778},{"c":"y","n":47,"f":13432.2,"a":0.66},{"c":"y","n":47,"f":13433.6,"a":0.945},{"c":"y","n":47,"f":13434.4,"a":0.8},{"c":"y","n":47,"f":13435.4,"a":1.228},{"c":"y","n":47,"f":13436.2,"a":0.95},{"c":"y","n":47,"f":13437.1,"a":1.295},{"c":"y","n":47,"f":13438.2,"a":1},{"c":"y","n":47,"f":13439.4,"a":1.112},{"c":"y","n":47,"f":13441.1,"a":0.937},
{"c":"k","n":48,"f":13429,"a":0.22},{"c":"k","n":48,"f":13431.3,"a":0.612},{"c":"k","n":48,"f":13433.6,"a":1.028},{"c":"k","n":48,"f":13437.1,"a":1.262},{"c":"k","n":48,"f":13441.1,"a":1.332},{"c":"k","n":48,"f":13445.2,"a":1.345},{"c":"k","n":48,"f":13449.2,"a":1.303},{"c":"k","n":48,"f":13453.3,"a":1.145},{"c":"k","n":48,"f":13456.7,"a":0.778},{"c":"k","n":48,"f":13459,"a":0.445},{"c":"k","n":48,"f":13461.3,"a":0.225},
{"c":"b","n":49,"f":13461.3,"a":0.242},{"c":"b","n":49,"f":13464.2,"a":0.778},{"c":"b","n":49,"f":13467.1,"a":1.145},{"c":"b","n":49,"f":13470.6,"a":1.328},{"c":"b","n":49,"f":13474,"a":1.378},{"c":"b","n":49,"f":13477.5,"a":1.278},{"c":"b","n":49,"f":13481,"a":1.078},{"c":"b","n":49,"f":13485.6,"a":1.045},{"c":"b","n":49,"f":13487.9,"a":0.778},{"c":"b","n":49,"f":13490.7,"a":0.445},{"c":"b","n":49,"f":13493,"a":0.245},
{"c":"g","n":50,"f":13493,"a":0.328},{"c":"g","n":50,"f":13495.4,"a":0.695},{"c":"g","n":50,"f":13497.7,"a":1.078},{"c":"g","n":50,"f":13500,"a":1.145},{"c":"g","n":50,"f":13502.9,"a":1.065},{"c":"g","n":50,"f":13506.3,"a":1.045},{"c":"g","n":50,"f":13509.8,"a":1.028},{"c":"g","n":50,"f":13513.8,"a":1.128},{"c":"g","n":50,"f":13517.3,"a":1.312},{"c":"g","n":50,"f":13519.6,"a":1.32},{"c":"g","n":50,"f":13521.9,"a":0.945},{"c":"g","n":50,"f":13523.6,"a":0.612},{"c":"g","n":50,"f":13525.3,"a":0.337},
{"c":"r","n":51,"f":13525.3,"a":0.295},{"c":"r","n":51,"f":13527.6,"a":0.778},{"c":"r","n":51,"f":13530,"a":1.128},{"c":"r","n":51,"f":13532.8,"a":1.162},{"c":"r","n":51,"f":13537.4,"a":1.12},{"c":"r","n":51,"f":13541.5,"a":1.103},{"c":"r","n":51,"f":13543.8,"a":1.17},{"c":"r","n":51,"f":13548.4,"a":1.215},{"c":"r","n":51,"f":13551.3,"a":1.112},{"c":"r","n":51,"f":13553.6,"a":0.778},{"c":"r","n":51,"f":13555.9,"a":0.445},{"c":"r","n":51,"f":13557.6,"a":0.287},
{"c":"c","n":52,"f":13557.6,"a":0.287},{"c":"c","n":52,"f":13560.5,"a":0.762},{"c":"c","n":52,"f":13563.4,"a":0.978},{"c":"c","n":52,"f":13566.3,"a":1.095},{"c":"c","n":52,"f":13570.9,"a":1.178},{"c":"c","n":52,"f":13574.3,"a":1.278},{"c":"c","n":52,"f":13577.8,"a":1.308},{"c":"c","n":52,"f":13582.4,"a":1.27},{"c":"c","n":52,"f":13584.7,"a":0.928},{"c":"c","n":52,"f":13587,"a":0.512},{"c":"c","n":52,"f":13589.3,"a":0.287},
{"c":"m","n":53,"f":13589.3,"a":0.287},{"c":"m","n":53,"f":13592.2,"a":0.762},{"c":"m","n":53,"f":13595.1,"a":1.145},{"c":"m","n":53,"f":13598,"a":1.215},{"c":"m","n":53,"f":13602,"a":1.215},{"c":"m","n":53,"f":13605.5,"a":1.145},{"c":"m","n":53,"f":13609.5,"a":1.112},{"c":"m","n":53,"f":13614.1,"a":1.165},{"c":"m","n":53,"f":13616.4,"a":1.045},{"c":"m","n":53,"f":13618.2,"a":0.678},{"c":"m","n":53,"f":13621,"a":0.292},
{"c":"y","n":54,"f":13621,"a":0.292},{"c":"y","n":54,"f":13623.9,"a":0.928},{"c":"y","n":54,"f":13626.8,"a":1.245},{"c":"y","n":54,"f":13629.7,"a":1.22},{"c":"y","n":54,"f":13632.6,"a":1.145},{"c":"y","n":54,"f":13637.2,"a":1.107},{"c":"y","n":54,"f":13643,"a":1.153},{"c":"y","n":54,"f":13647,"a":1.137},{"c":"y","n":54,"f":13649.3,"a":0.845},{"c":"y","n":54,"f":13651,"a":0.512},{"c":"y","n":54,"f":13652.8,"a":0.292},
{"c":"k","n":55,"f":13652.8,"a":0.308},{"c":"k","n":55,"f":13655.7,"a":0.762},{"c":"k","n":55,"f":13658.5,"a":1.045},{"c":"k","n":55,"f":13661.4,"a":1.092},{"c":"k","n":55,"f":13664.3,"a":1.103},{"c":"k","n":55,"f":13667.8,"a":1.12},{"c":"k","n":55,"f":13671.2,"a":1.22},{"c":"k","n":55,"f":13676.4,"a":1.242},{"c":"k","n":55,"f":13679.3,"a":1.145},{"c":"k","n":55,"f":13681.6,"a":0.845},{"c":"k","n":55,"f":13683.3,"a":0.512},{"c":"k","n":55,"f":13685,"a":0.308},
{"c":"b","n":56,"f":13685,"a":0.27},{"c":"b","n":56,"f":13688.5,"a":0.845},{"c":"b","n":56,"f":13692,"a":1.095},{"c":"b","n":56,"f":13695.4,"a":1.245},{"c":"b","n":56,"f":13699.5,"a":1.303},{"c":"b","n":56,"f":13703.5,"a":1.228},{"c":"b","n":56,"f":13707.6,"a":1.112},{"c":"b","n":56,"f":13710.4,"a":1.112},{"c":"b","n":56,"f":13712.7,"a":0.845},{"c":"b","n":56,"f":13715,"a":0.512},{"c":"b","n":56,"f":13716.8,"a":0.278},
{"c":"g","n":57,"f":13716.8,"a":0.312},{"c":"g","n":57,"f":13719.1,"a":0.678},{"c":"g","n":57,"f":13721.4,"a":1.095},{"c":"g","n":57,"f":13724.9,"a":1.278},{"c":"g","n":57,"f":13728.3,"a":1.178},{"c":"g","n":57,"f":13732.4,"a":1.07},{"c":"g","n":57,"f":13738.1,"a":1.033},{"c":"g","n":57,"f":13742.7,"a":1.162},{"c":"g","n":57,"f":13745,"a":1.012},{"c":"g","n":57,"f":13746.8,"a":0.595},{"c":"g","n":57,"f":13749.1,"a":0.303},
{"c":"r","n":58,"f":13749.1,"a":0.303},{"c":"r","n":58,"f":13751.4,"a":0.845},{"c":"r","n":58,"f":13753.7,"a":1.178},{"c":"r","n":58,"f":13756.6,"a":1.278},{"c":"r","n":58,"f":13758.9,"a":1.22},{"c":"r","n":58,"f":13761.8,"a":1.162},{"c":"r","n":58,"f":13765.8,"a":1.078},{"c":"r","n":58,"f":13770.4,"a":1.132},{"c":"r","n":58,"f":13775,"a":1.103},{"c":"r","n":58,"f":13777.3,"a":0.762},{"c":"r","n":58,"f":13779.1,"a":0.512},{"c":"r","n":58,"f":13780.8,"a":0.298},
{"c":"c","n":59,"f":13780.8,"a":0.303},{"c":"c","n":59,"f":13783.1,"a":0.762},{"c":"c","n":59,"f":13786,"a":1.062},{"c":"c","n":59,"f":13789.5,"a":1.07},{"c":"c","n":59,"f":13792.3,"a":1.087},{"c":"c","n":59,"f":13795.8,"a":1.162},{"c":"c","n":59,"f":13799.3,"a":1.262},{"c":"c","n":59,"f":13802.7,"a":1.303},{"c":"c","n":59,"f":13805.6,"a":1.178},{"c":"c","n":59,"f":13808.5,"a":0.762},{"c":"c","n":59,"f":13813.1,"a":0.278},
{"c":"m","n":60,"f":13813.1,"a":0.278},{"c":"m","n":60,"f":13816,"a":0.762},{"c":"m","n":60,"f":13818.9,"a":1.128},{"c":"m","n":60,"f":13822.3,"a":1.237},{"c":"m","n":60,"f":13826.9,"a":1.275},{"c":"m","n":60,"f":13830.4,"a":1.178},{"c":"m","n":60,"f":13833.9,"a":1.095},{"c":"m","n":60,"f":13838.5,"a":1.062},{"c":"m","n":60,"f":13840.8,"a":0.762},{"c":"m","n":60,"f":13843.1,"a":0.512},{"c":"m","n":60,"f":13845.4,"a":0.27},
{"c":"y","n":61,"f":13845.4,"a":0.278},{"c":"y","n":61,"f":13847.7,"a":0.762},{"c":"y","n":61,"f":13850,"a":1.262},{"c":"y","n":61,"f":13852.9,"a":1.398},{"c":"y","n":61,"f":13857.5,"a":1.348},{"c":"y","n":61,"f":13860.4,"a":1.178},{"c":"y","n":61,"f":13863.9,"a":1.012},{"c":"y","n":61,"f":13868.5,"a":0.945},{"c":"y","n":61,"f":13871.9,"a":0.912},{"c":"y","n":61,"f":13873.7,"a":0.512},{"c":"y","n":61,"f":13877.1,"a":0.27},
{"c":"k","n":62,"f":13877.1,"a":0.295},{"c":"k","n":62,"f":13879.4,"a":0.762},{"c":"k","n":62,"f":13881.1,"a":1.145},{"c":"k","n":62,"f":13882.9,"a":1.237},{"c":"k","n":62,"f":13885.8,"a":1.162},{"c":"k","n":62,"f":13889.8,"a":1.07},{"c":"k","n":62,"f":13893.8,"a":1.128},{"c":"k","n":62,"f":13897.9,"a":1.208},{"c":"k","n":62,"f":13901.9,"a":1.187},{"c":"k","n":62,"f":13904.2,"a":0.928},{"c":"k","n":62,"f":13906.5,"a":0.512},{"c":"k","n":62,"f":13908.8,"a":0.292},
{"c":"b","n":63,"f":13909.3,"a":3},{"c":"b","n":63,"f":13909.4,"a":0.795},{"c":"b","n":63,"f":13910.2,"a":1.1},{"c":"b","n":63,"f":13911.1,"a":1.278},{"c":"b","n":63,"f":13911.9,"a":1},{"c":"b","n":63,"f":13912.6,"a":1.29},{"c":"b","n":63,"f":13913.3,"a":1.012},{"c":"b","n":63,"f":13914,"a":1.278},{"c":"b","n":63,"f":13915,"a":0.9},{"c":"b","n":63,"f":13915.7,"a":0.95},{"c":"b","n":63,"f":13916.4,"a":0.7},{"c":"b","n":63,"f":13917,"a":0.92},{"c":"b","n":63,"f":13917.7,"a":0.62},{"c":"b","n":63,"f":13918.3,"a":0.85},{"c":"b","n":63,"f":13919,"a":0.52},{"c":"b","n":63,"f":13919.6,"a":0.72},{"c":"b","n":63,"f":13920.3,"a":0.46},{"c":"b","n":63,"f":13920.9,"a":0.7},{"c":"b","n":63,"f":13921.5,"a":0.42},{"c":"b","n":63,"f":13922.1,"a":0.66},{"c":"b","n":63,"f":13922.7,"a":0.4},{"c":"b","n":63,"f":13923.3,"a":0.68},{"c":"b","n":63,"f":13923.9,"a":0.39},{"c":"b","n":63,"f":13924.5,"a":0.62},{"c":"b","n":63,"f":13925.1,"a":0.38},{"c":"b","n":63,"f":13925.7,"a":0.65},{"c":"b","n":63,"f":13926.3,"a":0.395},{"c":"b","n":63,"f":13926.9,"a":0.66},{"c":"b","n":63,"f":13927.5,"a":0.42},{"c":"b","n":63,"f":13928.1,"a":0.68},{"c":"b","n":63,"f":13928.7,"a":0.48},{"c":"b","n":63,"f":13929.3,"a":0.6},{"c":"b","n":63,"f":13930,"a":0.55},{"c":"b","n":63,"f":13930.7,"a":0.85},{"c":"b","n":63,"f":13931.4,"a":0.62},{"c":"b","n":63,"f":13932,"a":0.93},{"c":"b","n":63,"f":13932.7,"a":0.72},{"c":"b","n":63,"f":13933.4,"a":1.02},{"c":"b","n":63,"f":13934.1,"a":0.85},{"c":"b","n":63,"f":13934.7,"a":1.15},{"c":"b","n":63,"f":13935.4,"a":0.98},{"c":"b","n":63,"f":13936.1,"a":1.26},{"c":"b","n":63,"f":13936.8,"a":1.05},{"c":"b","n":63,"f":13937.5,"a":1.295},{"c":"b","n":63,"f":13938.2,"a":1},{"c":"b","n":63,"f":13939.4,"a":1.278}
],
"reference":[
{"n":1,"f":13755,"a":1.278},{"n":1,"f":13755.6,"a":1.1},{"n":1,"f":13756.2,"a":1.33},{"n":1,"f":13756.8,"a":1.1},{"n":1,"f":13757.4,"a":1.35},{"n":1,"f":13758,"a":1.1},{"n":1,"f":13758.6,"a":1.45},{"n":1,"f":13759.2,"a":1.1},{"n":1,"f":13759.5,"a":1.658},{"n":1,"f":13760,"a":1.1},{"n":1,"f":13760.6,"a":1.45},{"n":1,"f":13761.2,"a":1.1},{"n":1,"f":13761.8,"a":1.5},{"n":1,"f":13762.4,"a":1.1},{"n":1,"f":13762.9,"a":1.695},{"n":1,"f":13763.4,"a":1.1},{"n":1,"f":13764,"a":1.6},{"n":1,"f":13764.7,"a":1.79},{"n":1,"f":13765.3,"a":1.1},{"n":1,"f":13765.9,"a":1.55},{"n":1,"f":13766.4,"a":1.1},{"n":1,"f":13767,"a":1.45},{"n":1,"f":13767.6,"a":1.1},{"n":1,"f":13768.1,"a":1.512},{"n":1,"f":13768.7,"a":1.1},{"n":1,"f":13769.3,"a":1.42},{"n":1,"f":13770,"a":1.1},{"n":1,"f":13771,"a":1.415},{"n":1,"f":13771.6,"a":1.1},{"n":1,"f":13772.3,"a":1.3},{"n":1,"f":13773,"a":1.1},{"n":1,"f":13773.9,"a":1.295},{"n":1,"f":13774.6,"a":1.1},{"n":1,"f":13775.6,"a":1.22},{"n":1,"f":13776.4,"a":1.1},{"n":1,"f":13777.3,"a":1.178},{"n":1,"f":13778.5,"a":1.078},
{"n":2,"f":12671.5,"a":1.2},{"n":2,"f":12673.6,"a":1.262},{"n":2,"f":12675.3,"a":1.345},{"n":2,"f":12677,"a":1.408},{"n":2,"f":12678.8,"a":1.278},
{"n":3,"f":12575.6,"a":1.278},{"n":3,"f":12580.2,"a":1.312},{"n":3,"f":12581.9,"a":1.362},{"n":3,"f":12584.2,"a":1.02},
{"n":4,"f":12595,"a":1.112},{"n":4,"f":12597.5,"a":1.27},{"n":4,"f":12600,"a":1.22},
{"n":5,"f":12608,"a":1.1},{"n":5,"f":12611.3,"a":1.16},{"n":5,"f":12614.5,"a":1.15},
{"n":6,"f":12626.3,"a":1.145},{"n":6,"f":12628,"a":1.273},{"n":6,"f":12631,"a":1.153},
{"n":7,"f":12637.8,"a":1.098},{"n":7,"f":12641.9,"a":1.203},{"n":7,"f":12647,"a":1.178},
{"n":8,"f":12266.5,"a":1.053},{"n":8,"f":12271.6,"a":1.17},{"n":8,"f":12274.5,"a":1.175},
{"n":9,"f":12287,"a":1.03},{"n":9,"f":12290.7,"a":1.112},{"n":9,"f":12296.5,"a":1.162},
{"n":10,"f":12300,"a":1.262},{"n":10,"f":12303.4,"a":1.332},{"n":10,"f":12306,"a":0.945},
{"n":11,"f":12319.5,"a":1.145},{"n":11,"f":12325.3,"a":1.262},{"n":11,"f":12332,"a":1.162},
{"n":12,"f":12350,"a":1.195},{"n":12,"f":12352.4,"a":1.375},{"n":12,"f":12357,"a":1.303},
{"n":13,"f":12380,"a":0.778},{"n":13,"f":12384,"a":1.29},{"n":13,"f":12386,"a":1.195},
{"n":14,"f":12440.6,"a":1.295},{"n":14,"f":12447.5,"a":1.387},{"n":14,"f":12452,"a":1.195},
{"n":15,"f":12499,"a":1.137},{"n":15,"f":12502.3,"a":1.128},{"n":15,"f":12506.4,"a":1.128},{"n":15,"f":12510,"a":1.053},
{"n":16,"f":12531.7,"a":1.158},{"n":16,"f":12537,"a":1.208},{"n":16,"f":12541.5,"a":1.12},
{"n":17,"f":11941,"a":1.26},{"n":17,"f":11947,"a":1.378},{"n":17,"f":11952,"a":1.28},
{"n":18,"f":12239,"a":1.012},{"n":18,"f":12243,"a":1.14},{"n":18,"f":12246,"a":0.778},
{"n":19,"f":13786,"a":1.062},{"n":19,"f":13788.3,"a":1.145},{"n":19,"f":13791,"a":1.07},
{"n":20,"f":13799.3,"a":1.262},{"n":20,"f":13802.7,"a":1.332},{"n":20,"f":13805.6,"a":1.178},
{"n":21,"f":13822.3,"a":1.237},{"n":21,"f":13826.9,"a":1.29},{"n":21,"f":13830.4,"a":1.178},
{"n":22,"f":13425,"a":0.4},{"n":22,"f":13425.6,"a":0.853},{"n":22,"f":13427,"a":0.5},
{"n":23,"f":12924.4,"a":0.412},{"n":23,"f":12925.6,"a":0.778},{"n":23,"f":12927.3,"a":0.5},
{"n":24,"f":12424.9,"a":0.5},{"n":24,"f":12425.6,"a":0.745},{"n":24,"f":12427,"a":0.5},
{"n":25,"f":13924.8,"a":0.45},{"n":25,"f":13925.5,"a":0.845},{"n":25,"f":13926.8,"a":0.5}
],
"label":[{"f":13811,"a":1.895,"text":"BR - LL"}],
"frame":[{"f":12000,"a":0}]
},
"layer":[
{"data":{"name":"reference"},
"mark":{"type":"line","color":"#bebebe","strokeWidth":1.6,"clip":true},
"encoding":{
"x":{"field":"f","type":"quantitative","scale":{"domain":[11929,13939.5],"nice":false,"zero":false},
"axis":{"title":"Frequency [MHz]","titleFontSize":16.67,"titleFontWeight":"normal","titleColor":"black","titlePadding":2,"labelFontSize":16.67,"labelColor":"black","labelPadding":10,"values":[12000,12500,13000,13500],"format":"d","tickSize":-5,"tickColor":"black","domain":false,"grid":false,"labelFlush":false}},
"y":{"field":"a","type":"quantitative","scale":{"domain":[0,2],"nice":false},
"axis":{"title":"Amplitude [arbitrary units]","titleFontSize":16.67,"titleFontWeight":"normal","titleColor":"black","titlePadding":10,"labelFontSize":16.67,"labelColor":"black","labelPadding":6,"values":[0,0.5,1,1.5,2],"format":".1f","tickSize":-5,"tickColor":"black","domain":false,"grid":false}},
"detail":{"field":"n"}}},
{"data":{"name":"spectrum"},
"mark":{"type":"line","strokeWidth":1.5,"clip":true,"interpolate":"monotone"},
"encoding":{
"x":{"field":"f","type":"quantitative","axis":null},
"y":{"field":"a","type":"quantitative","axis":null},
"color":{"field":"c","type":"nominal","legend":null,"scale":{"domain":["b","g","r","c","m","y","k"],"range":["#0000ff","#008000","#ff0000","#00bfbf","#bf00bf","#bfbf00","#000000"]}},
"detail":{"field":"n"}}},
{"data":{"name":"label"},
"mark":{"type":"text","align":"left","baseline":"middle","fontSize":16.67,"color":"black"},
"encoding":{
"x":{"field":"f","type":"quantitative","axis":null},
"y":{"field":"a","type":"quantitative","axis":null},
"text":{"field":"text"}}},
{"data":{"name":"frame"},
"mark":{"type":"point","opacity":0},
"encoding":{
"x":{"field":"f","type":"quantitative","axis":{"orient":"top","title":null,"labels":false,"values":[12000,12500,13000,13500],"tickSize":-5,"tickColor":"black","domain":false,"grid":false}},
"y":{"field":"a","type":"quantitative","axis":{"orient":"right","title":null,"labels":false,"values":[0,0.5,1,1.5,2],"tickSize":-5,"tickColor":"black","domain":false,"grid":false}}}}
],
"resolve":{"axis":{"x":"independent","y":"independent"}}
}
